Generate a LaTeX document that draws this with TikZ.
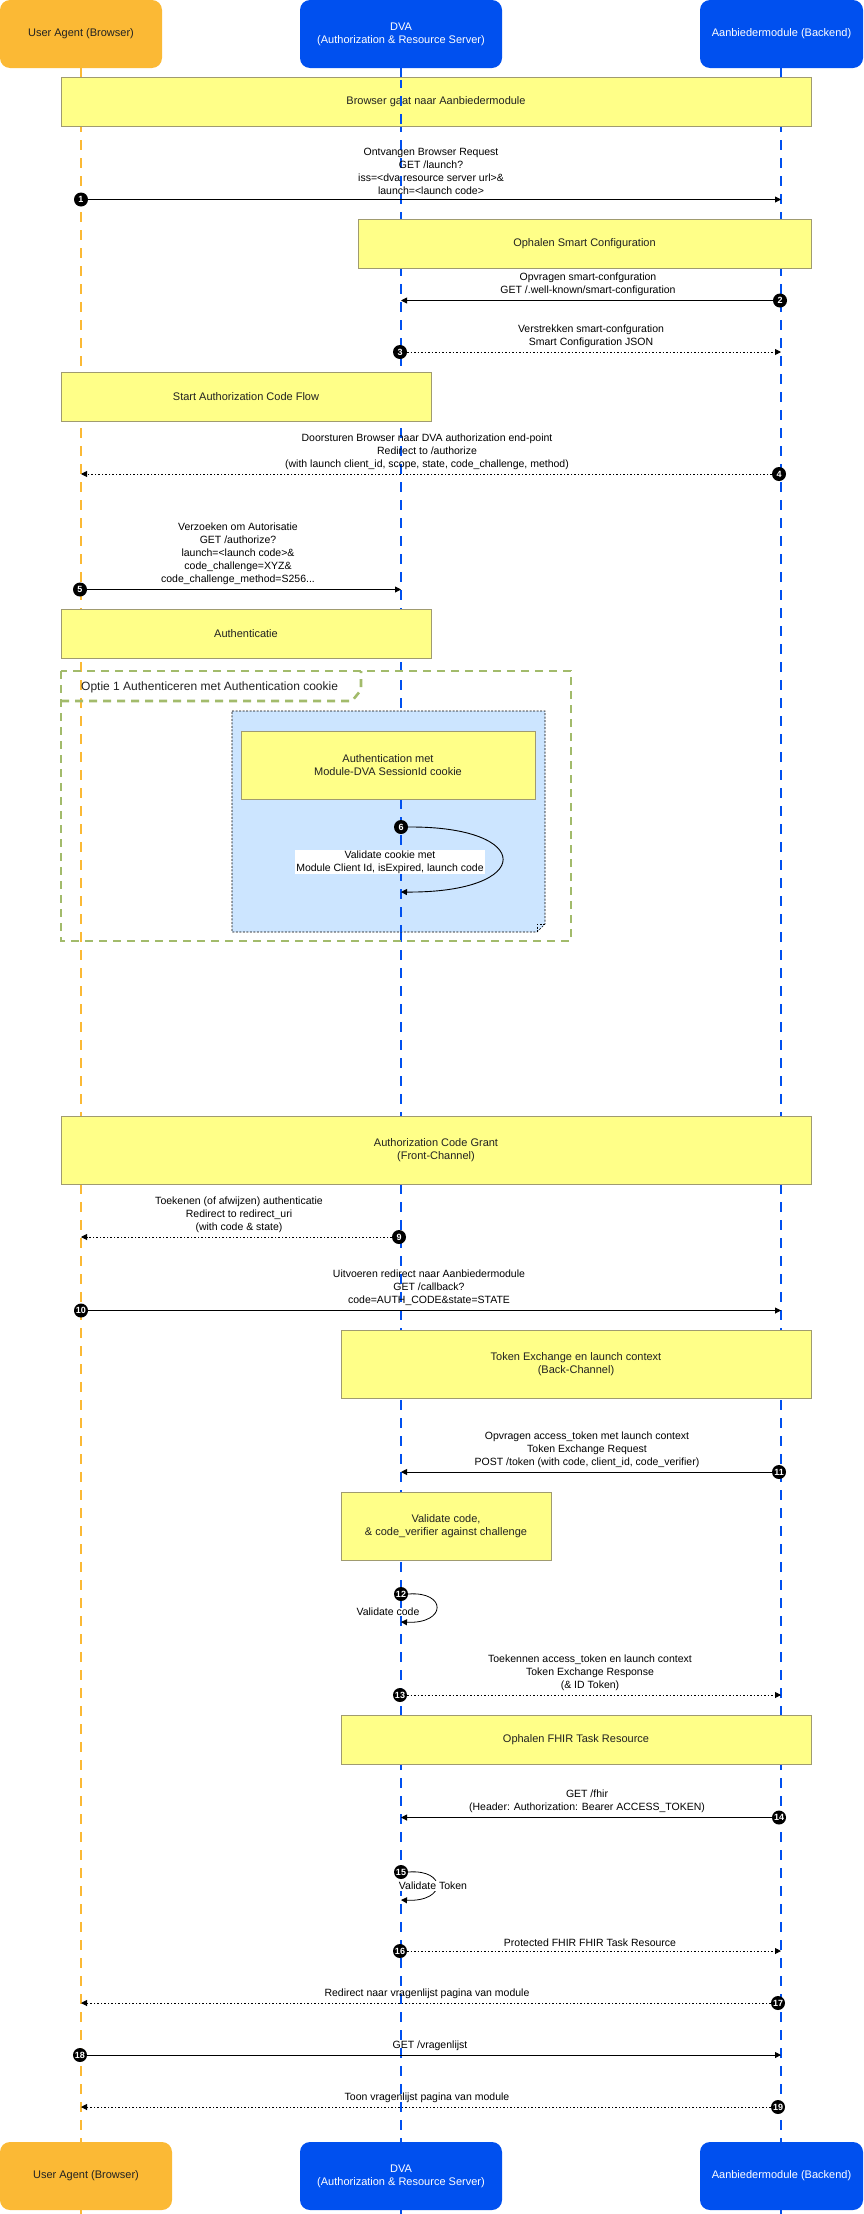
\documentclass[tikz,border=0pt]{standalone}
\usepackage{fontspec}
\setmainfont{Liberation Sans}
\usetikzlibrary{arrows.meta}
\definecolor{ornge}{HTML}{FBB935}
\definecolor{blu}{HTML}{0050EF}
\definecolor{noteY}{HTML}{FFFF88}
\definecolor{noteB}{HTML}{A09B70}
\definecolor{grn}{HTML}{A2BB6B}
\definecolor{lblue}{HTML}{CCE5FF}
\definecolor{txt}{HTML}{222222}
\begin{document}
\begin{tikzpicture}[x=1pt,y=-1pt,
  font=\fontsize{10.5}{13}\selectfont,
  actor/.style={draw=none,rounded corners=10pt,inner sep=0pt,align=center,font=\fontsize{11}{13}\selectfont},
  note/.style={draw=noteB,fill=noteY,line width=0.8pt,inner sep=0pt,align=center,text=txt,font=\fontsize{11}{13}\selectfont},
  life/.style={line width=2.4pt,dash pattern=on 10pt off 8pt},
  badge/.style={circle,fill=black,inner sep=0pt,minimum size=14pt,text=white,font=\fontsize{9}{9}\bfseries\selectfont},
  mtxt/.style={align=center,anchor=south,inner sep=1pt,text=black},
  req/.style={line width=0.9pt,-{Triangle[length=6pt,width=6pt]}},
  resp/.style={line width=0.9pt,dash pattern=on 1.5pt off 2pt,-{Triangle[length=6pt,width=6pt]}}]
\useasboundingbox (0,0) rectangle (863,2214);
% lifelines
\coordinate (uT) at (81,68); \coordinate (uB) at (81,2214);
\coordinate (dT) at (401,68); \coordinate (dB) at (401,2214);
\coordinate (aT) at (781,68); \coordinate (aB) at (781,2214);
\draw[life,ornge] (uT) -- (uB);
\draw[life,blu] (dT) -- (dB);
\draw[life,blu] (aT) -- (aB);
% actors
\node[actor,fill=ornge,text=txt,minimum width=162pt,minimum height=68pt] (u1) at (81,34) {User Agent (Browser)};
\node[actor,fill=blu,text=white,minimum width=202pt,minimum height=68pt] (d1) at (401,34) {DVA\\(Authorization \& Resource Server)};
\node[actor,fill=blu,text=white,minimum width=163pt,minimum height=68pt] (a1) at (781.5,34) {Aanbiedermodule (Backend)};
\node[actor,fill=ornge,text=txt,minimum width=172pt,minimum height=68pt] (u2) at (86,2176) {User Agent (Browser)};
\node[actor,fill=blu,text=white,minimum width=202pt,minimum height=68pt] (d2) at (401,2176) {DVA\\(Authorization \& Resource Server)};
\node[actor,fill=blu,text=white,minimum width=163pt,minimum height=68pt] (a2) at (781.5,2176) {Aanbiedermodule (Backend)};
% notes
\node[note,minimum width=750pt,minimum height=49pt] (n1) at (436,101.5) {Browser gaat naar Aanbiedermodule};
\coordinate (dx1) at (401,80); \coordinate (dx2) at (401,126);
\draw[life,blu,dash phase=2pt] (dx1) -- (dx2);
\node[note,minimum width=453pt,minimum height=49pt] (n2) at (584.5,243.5) {Ophalen Smart Configuration};
\node[note,minimum width=370pt,minimum height=49pt] (n3) at (246,397) {Start Authorization Code Flow};
\node[note,minimum width=370pt,minimum height=49pt] (n4) at (246,633.5) {Authenticatie};
% option frame
\draw[grn,line width=2.6pt,dash pattern=on 8pt off 6pt] (61,671) rectangle (571,941);
\draw[grn,line width=2.6pt,dash pattern=on 8pt off 6pt] (61,701) -- (352,701) -- (361,690) -- (361,671);
\node[anchor=west,inner sep=0pt,font=\fontsize{12}{14}\selectfont,text=txt] (opt) at (81,687) {Optie 1 Authenticeren met Authentication cookie};
% blue box with folded corner
\fill[lblue] (232,711) -- (545,711) -- (545,924) -- (537,932) -- (232,932) -- cycle;
\draw[dash pattern=on 2pt off 1.5pt,line width=0.6pt] (232,711) -- (545,711) -- (545,924) -- (537,932) -- (232,932) -- cycle;
\draw[dash pattern=on 2pt off 1.5pt,line width=0.6pt] (545,924) -- (537,924) -- (537,932);
\coordinate (dy1) at (401,799); \coordinate (dy2) at (401,932);
\draw[life,blu] (dy1) -- (dy2);
\node[note,minimum width=294pt,minimum height=68pt] (n5) at (388,765) {Authentication met\\Module-DVA SessionId cookie};
\node[note,minimum width=750pt,minimum height=68pt] (n6) at (436,1150) {Authorization Code Grant\\(Front-Channel)};
\node[note,minimum width=470pt,minimum height=68pt] (n7) at (576,1364) {Token Exchange en launch context\\(Back-Channel)};
\node[note,minimum width=210pt,minimum height=68pt] (n8) at (446,1526) {Validate code,\\\& code\_verifier against challenge};
\node[note,minimum width=470pt,minimum height=49pt] (n9) at (576,1740) {Ophalen FHIR Task Resource};
% messages
\node[badge] (b1) at (81,199.5) {1};
\coordinate (e1) at (781,199.5);
\draw[req] (b1) -- (e1);
\node[mtxt] (t1) at (431,196) {Ontvangen Browser Request\\GET /launch?\\iss=<dva resource server url>\&\\launch=<launch code>};
\node[badge] (b2) at (780,300.5) {2};
\coordinate (e2) at (401,300.5);
\draw[req] (b2) -- (e2);
\node[mtxt] (t2) at (588,297) {Opvragen smart-confguration\\GET /.well-known/smart-configuration};
\node[badge] (b3) at (400,352) {3};
\coordinate (e3) at (781,352);
\draw[resp] (b3) -- (e3);
\node[mtxt] (t3) at (591,348.5) {Verstrekken smart-confguration\\Smart Configuration JSON};
\node[badge] (b4) at (779,474) {4};
\coordinate (e4) at (81,474);
\draw[resp] (b4) -- (e4);
\node[mtxt] (t4) at (427,470.5) {Doorsturen Browser naar DVA authorization end-point\\Redirect to /authorize\\(with launch client\_id, scope, state, code\_challenge, method)};
\node[badge] (b5) at (80,589.5) {5};
\coordinate (e5) at (401,589.5);
\draw[req] (b5) -- (e5);
\node[mtxt] (t5) at (238,586) {Verzoeken om Autorisatie\\GET /authorize?\\launch=<launch code>\&\\code\_challenge=XYZ\&\\code\_challenge\_method=S256...};
\node[badge] (b6) at (401,827) {6};
\coordinate (e6) at (401,892);
\draw[line width=0.9pt,-{Triangle[length=6pt,width=6pt]}] (b6.east) .. controls (535,826) and (535,893) .. (e6);
\node[fill=white,align=center,inner sep=1pt,text=black] (t6) at (390,862) {Validate cookie met\\Module Client Id, isExpired, launch code};
\node[badge] (b9) at (399,1237) {9};
\coordinate (e9) at (81,1237);
\draw[resp] (b9) -- (e9);
\node[mtxt] (t9) at (239,1233.5) {Toekenen (of afwijzen) authenticatie\\Redirect to redirect\_uri\\(with code \& state)};
\node[badge] (b10) at (81,1310.5) {10};
\coordinate (e10) at (781,1310.5);
\draw[req] (b10) -- (e10);
\node[mtxt] (t10) at (429,1307) {Uitvoeren redirect naar Aanbiedermodule\\GET /callback?\\code=AUTH\_CODE\&state=STATE};
\node[badge] (b11) at (779,1472) {11};
\coordinate (e11) at (401,1472);
\draw[req] (b11) -- (e11);
\node[mtxt] (t11) at (587,1468.5) {Opvragen access\_token met launch context\\Token Exchange Request\\POST /token (with code, client\_id, code\_verifier)};
\node[badge] (b12) at (401,1594) {12};
\coordinate (e12) at (401,1622);
\draw[line width=0.8pt,-{Triangle[length=6pt,width=6pt]}] (b12.east) .. controls (447,1591) and (447,1624) .. (e12);
\node[inner sep=0pt,text=black] (t12) at (388,1612) {Validate code};
\node[badge] (b13) at (400,1695) {13};
\coordinate (e13) at (781,1695);
\draw[resp] (b13) -- (e13);
\node[mtxt] (t13) at (590,1691.5) {Toekennen access\_token en launch context\\Token Exchange Response\\(\& ID Token)};
\node[badge] (b14) at (779,1817.5) {14};
\coordinate (e14) at (401,1817.5);
\draw[req] (b14) -- (e14);
\node[mtxt] (t14) at (587,1814) {GET /fhir\\(Header: Authorization: Bearer ACCESS\_TOKEN)};
\node[badge] (b15) at (401,1872) {15};
\coordinate (e15) at (401,1900);
\draw[line width=0.8pt,-{Triangle[length=6pt,width=6pt]}] (b15.east) .. controls (447,1869) and (447,1902) .. (e15);
\node[fill=white,inner sep=1pt,text=black] (t15) at (433,1886) {Validate Token};
\node[badge] (b16) at (400,1951) {16};
\coordinate (e16) at (781,1951);
\draw[resp] (b16) -- (e16);
\node[mtxt] (t16) at (590,1948) {Protected FHIR FHIR Task Resource};
\node[badge] (b17) at (778,2003) {17};
\coordinate (e17) at (81,2003);
\draw[resp] (b17) -- (e17);
\node[mtxt] (t17) at (427,2000) {Redirect naar vragenlijst pagina van module};
\node[badge] (b18) at (80,2055) {18};
\coordinate (e18) at (781,2055);
\draw[req] (b18) -- (e18);
\node[mtxt] (t18) at (430,2052) {GET /vragenlijst};
\node[badge] (b19) at (778,2107) {19};
\coordinate (e19) at (81,2107);
\draw[resp] (b19) -- (e19);
\node[mtxt] (t19) at (427,2104) {Toon vragenlijst pagina van module};
\end{tikzpicture}
\end{document}
